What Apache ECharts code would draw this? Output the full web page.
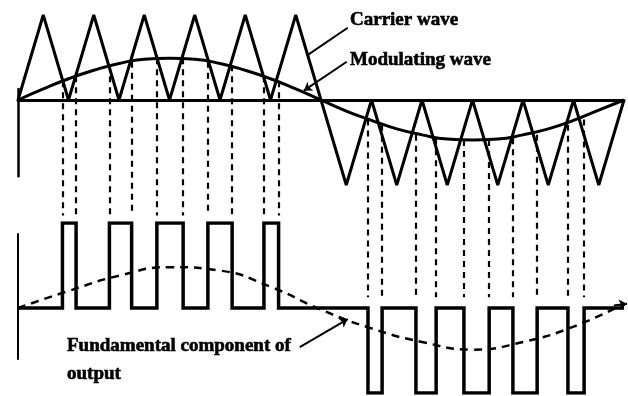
<!DOCTYPE html>
<html><head><meta charset="utf-8">
<script src="https://cdn.jsdelivr.net/npm/echarts@6/dist/echarts.min.js"></script>
<style>html,body{margin:0;padding:0;background:#fff}#c{width:628px;height:396px}</style>
</head><body><div id="c"></div>
<script>
// Time unit = one carrier period (12 carrier periods per modulating period)
const carrierX = [0,0.5,1,1.5,2,2.5,3,3.5,4,4.5,5,5.5,6.5,7,7.5,8,8.5,9,9.5,10,10.5,11,11.5,12];
const carrierY = [0,1,0,1,0,1,0,1,0,1,0,1,-1,0,-1,0,-1,0,-1,0,-1,0,-1,0];

const modX = [0,0.5,1,1.5,2,2.5,3,3.5,4,4.5,5,5.5,6,6.5,7,7.5,8,8.5,9,9.5,10,10.5,11,11.5,12];
const modY = [0,0.13,0.25,0.35,0.43,0.48,0.49,0.48,0.43,0.35,0.25,0.13,0.0,-0.13,-0.24,-0.34,-0.41,-0.46,-0.47,-0.46,-0.41,-0.34,-0.24,-0.12,0];

// switching instants (pulse edges) and the level where carrier meets modulating wave
const posPulses = [[0.88,1.15],[1.81,2.25],[2.75,3.27],[3.76,4.24],[4.87,5.16]];
const posLevels = [[0.22,0.28],[0.41,0.45],[0.49,0.49],[0.45,0.41],[0.28,0.22]];
const negPulses = [[6.93,7.21],[7.88,8.28],[8.83,9.33],[9.80,10.28],[10.89,11.21]];
const negLevels = [[-0.23,-0.29],[-0.41,-0.45],[-0.47,-0.47],[-0.45,-0.41],[-0.29,-0.23]];

const fundX = [0,1,2,3,4,5,6,7,8,9,10,11,12];
const fundY = [0,0.2,0.38,0.48,0.44,0.25,-0.02,-0.24,-0.40,-0.49,-0.40,-0.22,0.05];

const labels = {carrier:'Carrier wave', modulating:'Modulating wave', fund1:'Fundamental component of', fund2:'output'};

// ---- build series data ----
const zip = (xs, ys) => xs.map((x, i) => [x, ys[i]]);
const outPts = [[0,0]];
posPulses.forEach(([a,b]) => { outPts.push([a,0],[a,1],[b,1],[b,0]); });
negPulses.forEach(([a,b]) => { outPts.push([a,0],[a,-1],[b,-1],[b,0]); });
outPts.push([12,0]);

const POS_END = -1.36;  // just above the positive pulse tops (top grid units)
const NEG_END = -2.32;  // just above the output zero line
const dashData = [];
posPulses.forEach((p, i) => p.forEach((x, j) => dashData.push({coords: [[x, posLevels[i][j]], [x, POS_END]]})));
negPulses.forEach((p, i) => p.forEach((x, j) => dashData.push({coords: [[x, negLevels[i][j]], [x, NEG_END]]})));

const black = '#000';
const font = 'bold 19px "Liberation Serif", "DejaVu Serif", serif';
const txt = (t) => ({text: t, font: font, fill: black, stroke: black, lineWidth: 0.6, verticalAlign: 'middle'});

const chart = echarts.init(document.getElementById('c'), null, {renderer: 'canvas'});
chart.setOption({
  animation: false,
  backgroundColor: '#fff',
  grid: [
    {left: 18, right: 4, top: 15, height: 170},
    {left: 18, right: 4, top: 223, height: 170}
  ],
  xAxis: [
    {gridIndex: 0, type: 'value', min: 0, max: 12,
     axisLine: {show: true, onZero: true, lineStyle: {color: black, width: 3}},
     axisTick: {show: false}, axisLabel: {show: false}, splitLine: {show: false}},
    {gridIndex: 1, type: 'value', min: 0, max: 12,
     axisLine: {show: false}, axisTick: {show: false}, axisLabel: {show: false}, splitLine: {show: false}}
  ],
  yAxis: [
    {gridIndex: 0, type: 'value', min: -1, max: 1,
     axisLine: {show: false}, axisTick: {show: false}, axisLabel: {show: false}, splitLine: {show: false}},
    {gridIndex: 1, type: 'value', min: -1, max: 1,
     axisLine: {show: false}, axisTick: {show: false}, axisLabel: {show: false}, splitLine: {show: false}}
  ],
  series: [
    {type: 'lines', coordinateSystem: 'cartesian2d', xAxisIndex: 0, yAxisIndex: 0, clip: false,
     symbol: 'none', lineStyle: {color: black, width: 2.5, opacity: 1},
     data: [{coords: [[0, 0.14], [0, -0.91]]}]},
    {type: 'lines', coordinateSystem: 'cartesian2d', xAxisIndex: 1, yAxisIndex: 1, clip: false,
     symbol: 'none', lineStyle: {color: black, width: 2, opacity: 1},
     data: [{coords: [[0, 0.88], [0, -0.61]]}]},
    {name: 'dashes', type: 'lines', coordinateSystem: 'cartesian2d', xAxisIndex: 0, yAxisIndex: 0, clip: false,
     symbol: 'none', lineStyle: {color: black, width: 2.2, type: [6, 5], opacity: 1}, data: dashData},
    {name: 'Carrier wave', type: 'line', xAxisIndex: 0, yAxisIndex: 0, data: zip(carrierX, carrierY),
     showSymbol: false, symbol: 'none', lineStyle: {color: black, width: 3}, z: 5},
    {name: 'Modulating wave', type: 'line', xAxisIndex: 0, yAxisIndex: 0, data: zip(modX, modY),
     smooth: true, showSymbol: false, symbol: 'none', lineStyle: {color: black, width: 3}, z: 5},
    {name: 'Output', type: 'line', xAxisIndex: 1, yAxisIndex: 1, data: outPts,
     showSymbol: false, symbol: 'none', lineStyle: {color: black, width: 3.5, join: 'miter'}, z: 5},
    {name: 'Fundamental', type: 'line', xAxisIndex: 1, yAxisIndex: 1, data: zip(fundX, fundY),
     smooth: true, showSymbol: false, symbol: 'none', lineStyle: {color: black, width: 2.5, type: [8, 6]}, z: 4},
    // leader lines for labels
    {type: 'lines', coordinateSystem: 'cartesian2d', xAxisIndex: 0, yAxisIndex: 0, clip: false,
     symbol: ['none', 'none'], lineStyle: {color: black, width: 2, opacity: 1},
     data: [{coords: [[6.53, 0.85], [5.74, 0.53]]}]},
    {type: 'lines', coordinateSystem: 'cartesian2d', xAxisIndex: 0, yAxisIndex: 0, clip: false,
     symbol: ['none', 'arrow'], symbolSize: 8, lineStyle: {color: black, width: 2, opacity: 1},
     data: [{coords: [[6.51, 0.45], [5.66, 0.11]]}]},
    {type: 'lines', coordinateSystem: 'cartesian2d', xAxisIndex: 1, yAxisIndex: 1, clip: false,
     symbol: ['none', 'arrow'], symbolSize: 8, lineStyle: {color: black, width: 2, opacity: 1},
     data: [{coords: [[5.58, -0.46], [6.53, -0.13]]}, {coords: [[11.8, 0.03], [12.06, 0.05]]}]}
  ],
  graphic: [
    {type: 'text', x: 350, y: 20, style: txt(labels.carrier)},
    {type: 'text', x: 350, y: 60, style: txt(labels.modulating)},
    {type: 'text', x: 67, y: 346, style: txt(labels.fund1)},
    {type: 'text', x: 67, y: 374, style: txt(labels.fund2)}
  ]
});
</script>
</body></html>
